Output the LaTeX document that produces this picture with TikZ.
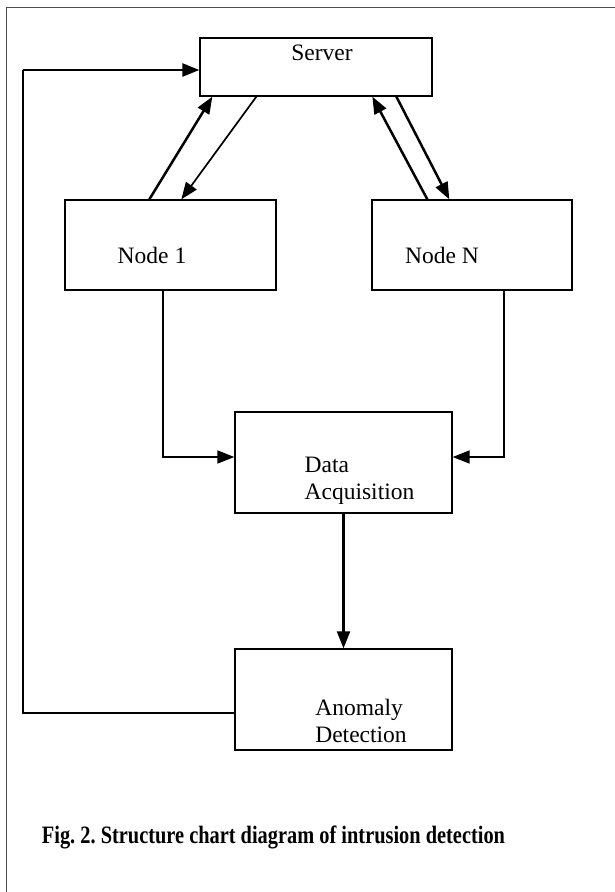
\documentclass[tikz,border=0pt]{standalone}
\usepackage{fontspec}
\setmainfont{Liberation Serif}
\usetikzlibrary{arrows.meta,positioning,calc}
\frenchspacing

\begin{document}
\begin{tikzpicture}[x=1pt,y=-1pt,
    box/.style={draw,line width=1.3pt,inner sep=0pt},
    lbl/.style={font=\fontsize{23.5}{27}\selectfont,inner sep=0pt,align=left},
    wire/.style={line width=1.6pt},
    flow/.style={line width=1.7pt,-{Triangle[length=17pt,width=13pt]}},
    bold flow/.style={flow,line width=2.5pt}]
\useasboundingbox (0,0) rectangle (615,892);

% page frame
\draw[gray!60!black,line width=1pt] (615,7) -- (6,7) -- (6,892);

% boxes
\node[box,minimum width=232,minimum height=58] (srv) at (316,67) {};
\node[box,minimum width=211,minimum height=90] (n1) at (170.5,245) {};
\node[box,minimum width=200,minimum height=90] (nN) at (472,245) {};
\node[box,minimum width=217,minimum height=101] (da) at (343.5,462.5) {};
\node[box,minimum width=217,minimum height=101] (an) at (343.5,699.5) {};

\node[lbl] (srvtxt) at ([xshift=6,yshift=14]srv.center) {Server};
\node[lbl] (n1txt) at ([xshift=-18.5,yshift=-10]n1.center) {Node 1};
\node[lbl] (nNtxt) at ([xshift=-30,yshift=-10]nN.center) {Node N};
\node[lbl] (datxt) at ([xshift=16,yshift=-18.5]da.center) {Data\\Acquisition};
\node[lbl] (antxt) at ([xshift=17.5,yshift=-21.5]an.center) {Anomaly\\Detection};

% links between server and nodes
\draw[bold flow] ([xshift=85]n1.north west) -- ([xshift=13]srv.south west);
\draw[flow] ([xshift=57]srv.south west) -- ([xshift=117]n1.north west);
\draw[bold flow] ([xshift=56]nN.north west) -- ([xshift=173]srv.south west);
\draw[bold flow] ([xshift=197]srv.south west) -- ([xshift=78]nN.north west);

% collection and detection
\draw[flow] ([xshift=-7.5]n1.south) |- ([yshift=5.5]da.west);
\draw[flow] ([xshift=32]nN.south) |- ([yshift=5.5]da.east);
\draw[bold flow,line width=2.2pt] (da.south) -- (an.north);

% feedback to server
\coordinate (loop) at (23,70);
\draw[wire] ([yshift=-13.5]an.west) -| (loop);
\draw[bold flow] (loop) -- ([yshift=-3]srv.west);

\node[font=\fontsize{25}{30}\selectfont\bfseries,inner sep=0pt] (cap) at (273.5,837)
  {\scalebox{0.815}[1]{Fig. 2. Structure chart diagram of intrusion detection}};
\end{tikzpicture}
\end{document}
